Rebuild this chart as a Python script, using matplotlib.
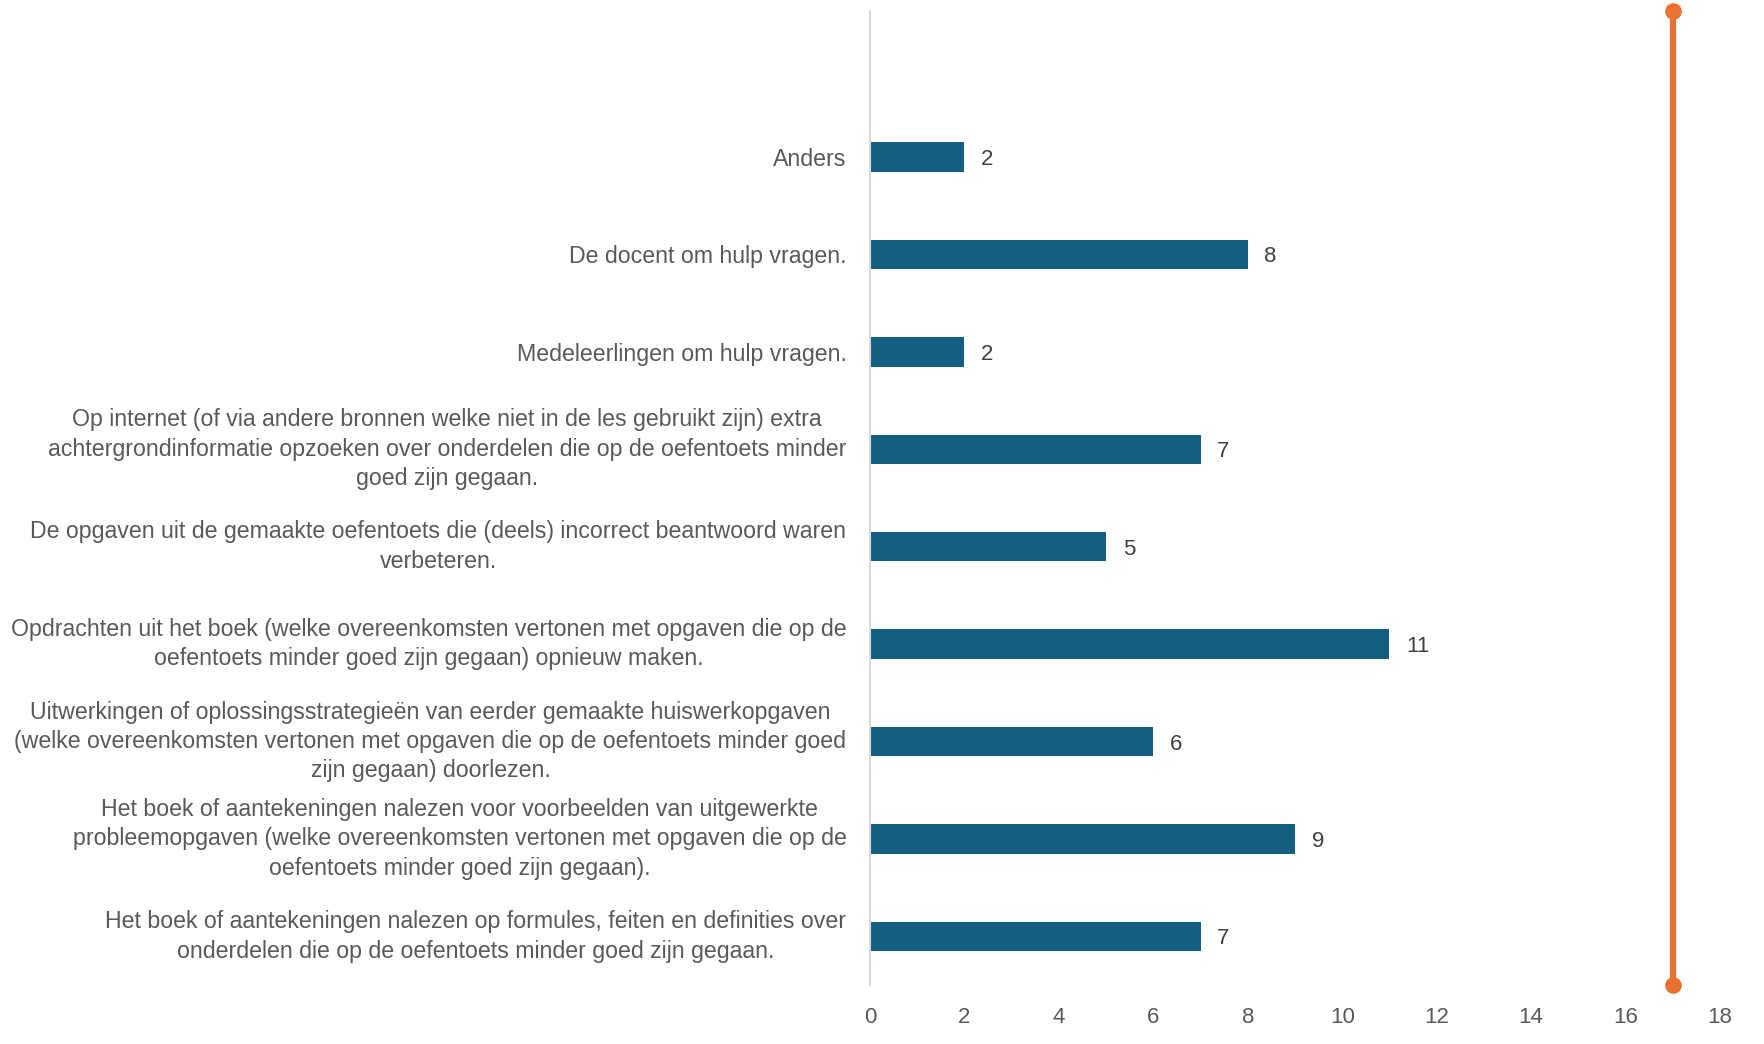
import matplotlib
matplotlib.use("Agg")
import matplotlib.pyplot as plt

plt.rcParams['font.family'] = ['Liberation Sans', 'DejaVu Sans']

labels = [
    "Anders",
    "De docent om hulp vragen.",
    "Medeleerlingen om hulp vragen.",
    "Op internet (of via andere bronnen welke niet in de les gebruikt zijn) extra\n"
    "achtergrondinformatie opzoeken over onderdelen die op de oefentoets minder\n"
    "goed zijn gegaan.",
    "De opgaven uit de gemaakte oefentoets die (deels) incorrect beantwoord waren\n"
    "verbeteren.",
    "Opdrachten uit het boek (welke overeenkomsten vertonen met opgaven die op de\n"
    "oefentoets minder goed zijn gegaan) opnieuw maken.",
    "Uitwerkingen of oplossingsstrategieën van eerder gemaakte huiswerkopgaven\n"
    "(welke overeenkomsten vertonen met opgaven die op de oefentoets minder goed\n"
    "zijn gegaan) doorlezen.",
    "Het boek of aantekeningen nalezen voor voorbeelden van uitgewerkte\n"
    "probleemopgaven (welke overeenkomsten vertonen met opgaven die op de\n"
    "oefentoets minder goed zijn gegaan).",
    "Het boek of aantekeningen nalezen op formules, feiten en definities over\n"
    "onderdelen die op de oefentoets minder goed zijn gegaan.",
]
waarden = [2, 8, 2, 7, 5, 11, 6, 9, 7]
grens_x = 17
x_ticks = list(range(0, 19, 2))

blauw = "#156082"
oranje = "#E97132"
grijs = "#595959"

fig = plt.figure(figsize=(17.64, 10.44), dpi=100)
ax = fig.add_axes([870 / 1764, 1 - 985 / 1044, 850 / 1764, 974 / 1044])

n = len(labels)
pos = [n - i for i in range(n)]  # bovenste vak blijft leeg
ax.barh(pos, waarden, height=0.3, color=blauw, zorder=2)
for p, v in zip(pos, waarden):
    ax.text(v + 0.35, p, str(v), va="center_baseline", ha="left", fontsize=16, color="#404040")

ax.plot([grens_x, grens_x], [0.5, n + 1.5], color=oranje, lw=4.5,
        marker="o", markersize=11, clip_on=False, zorder=3)

ax.set_xlim(0, 18)
ax.set_ylim(0.5, n + 1.5)
ax.set_xticks(x_ticks)
ax.set_yticks(pos)
ax.set_yticklabels(labels, fontsize=16.7, color=grijs)
for lbl in ax.get_yticklabels():
    lbl.set_multialignment("center")
    lbl.set_linespacing(1.36)
    if "\n" in lbl.get_text():
        lbl.set_verticalalignment("center")
    else:
        lbl.set_verticalalignment("center_baseline")
ax.tick_params(axis="y", length=0, pad=17)
ax.tick_params(axis="x", length=0, pad=16, labelsize=16, labelcolor=grijs)

for s in ["top", "right", "bottom"]:
    ax.spines[s].set_visible(False)
ax.spines["left"].set_color("#D9D9D9")
ax.spines["left"].set_linewidth(1.5)

fig.savefig("out.png", dpi=100)
